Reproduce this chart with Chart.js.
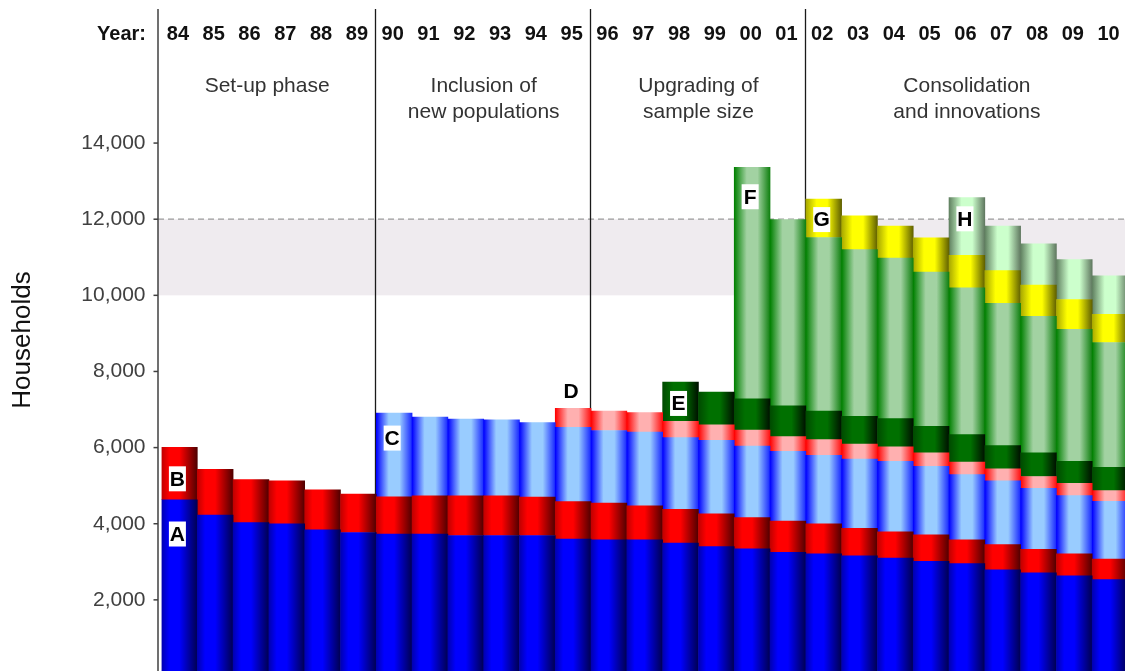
<!DOCTYPE html>
<html>
<head>
<meta charset="utf-8">
<script src="https://cdn.jsdelivr.net/npm/chart.js@4/dist/chart.umd.min.js"></script>
<style>
  html, body { margin: 0; padding: 0; background: #ffffff; overflow: hidden; }
  #wrap { width: 1128px; height: 676px; }
</style>
</head>
<body>
<div id="wrap"><canvas id="c" width="1128" height="676"></canvas></div>
<script>
// ---------- data ----------
const years = ['84','85','86','87','88','89','90','91','92','93','94','95','96','97','98','99','00','01','02','03','04','05','06','07','08','09','10'];
const seriesA = [4630,4230,4030,4000,3840,3770,3730,3730,3690,3690,3690,3600,3580,3580,3490,3400,3340,3250,3210,3160,3100,3010,2950,2790,2710,2630,2530];
const seriesB = [1380,1200,1130,1130,1050,1010,980,1000,1040,1040,1010,980,960,890,890,860,820,820,790,720,690,700,630,660,620,580,540];
const seriesC = [null,null,null,null,null,null,2200,2070,2020,2000,1960,1950,1910,1940,1880,1930,1880,1830,1800,1820,1850,1800,1710,1680,1600,1530,1520];
const seriesD = [null,null,null,null,null,null,null,null,null,null,null,500,510,510,430,410,420,390,410,390,380,350,330,310,310,320,280];
const seriesE = [null,null,null,null,null,null,null,null,null,null,null,null,null,null,1030,860,820,810,750,730,740,700,720,610,620,580,610];
const seriesF = [null,null,null,null,null,null,null,null,null,null,null,null,null,null,null,null,6080,4890,4560,4380,4220,4050,3860,3740,3590,3470,3280];
const seriesG = [null,null,null,null,null,null,null,null,null,null,null,null,null,null,null,null,null,null,1010,890,840,900,850,860,820,780,740];
const seriesH = [null,null,null,null,null,null,null,null,null,null,null,null,null,null,null,null,null,null,null,null,null,null,1520,1170,1080,1050,1010];
const seriesNames = ['A','B','C','D','E','F','G','H'];
const yTickValues = [2000,4000,6000,8000,10000,12000,14000];
const yTitle = 'Households';
const yearCaption = 'Year:';
const phaseTitles = [['Set-up phase'], ['Inclusion of','new populations'], ['Upgrading of','sample size'], ['Consolidation','and innovations']];
const phaseFirstIndex = [0, 6, 12, 18];
const bandLow = 10000, bandHigh = 12000;
const markLetters = ['A','B','C','D','E','F','G','H'];
const markIndex   = [0, 0, 6, 11, 14, 16, 18, 22];
const markValue   = [3730, 5180, 6250, 7490, 7160, 12590, 11990, 12010];
const markBoxed   = [true, true, true, false, true, true, true, true];

// ---------- styles ----------
const gradStops = [
  [[0,'#0000B0'],[0.22,'#0000FF'],[0.5,'#0000FF'],[1,'#000050']],
  [[0,'#C00000'],[0.22,'#FF0000'],[0.5,'#FF0000'],[1,'#500000']],
  [[0,'#0000FF'],[0.35,'#99CCFF'],[0.65,'#99CCFF'],[1,'#1828FF']],
  [[0,'#FF0000'],[0.35,'#FFB0B0'],[0.65,'#FFB0B0'],[1,'#FF1010']],
  [[0,'#004A00'],[0.3,'#007000'],[0.6,'#007000'],[1,'#001000']],
  [[0,'#008000'],[0.35,'#A2D2A2'],[0.65,'#A2D2A2'],[1,'#108010']],
  [[0,'#A8A800'],[0.3,'#FFFF00'],[0.6,'#FFFF00'],[1,'#606000']],
  [[0,'#608060'],[0.35,'#CCFFCC'],[0.65,'#CCFFCC'],[1,'#607860']]
];
const FONT = "'Liberation Sans', Arial, Helvetica, sans-serif";

function makeBg(si) {
  return function(ctx) {
    const chart = ctx.chart;
    const xs = chart.scales.x;
    const stops = gradStops[si];
    if (!xs || !chart.chartArea || ctx.type !== 'data') return stops[1][1];
    const w = (xs.right - xs.left) / years.length;
    const cx = xs.getPixelForValue(ctx.dataIndex);
    const g = chart.ctx.createLinearGradient(cx - w / 2, 0, cx + w / 2, 0);
    stops.forEach(s => g.addColorStop(s[0], s[1]));
    return g;
  };
}

const allSeries = [seriesA, seriesB, seriesC, seriesD, seriesE, seriesF, seriesG, seriesH];
const datasets = allSeries.map((d, i) => ({
  label: seriesNames[i],
  data: d,
  backgroundColor: makeBg(i),
  borderWidth: 0,
  barPercentage: 1,
  categoryPercentage: 1
}));

const deco = {
  id: 'deco',
  beforeDatasetsDraw(chart) {
    const { ctx, chartArea: a, scales: { x, y } } = chart;
    const w = (x.right - x.left) / years.length;
    const axisX = a.left - 3.5;
    ctx.save();
    const yLo = y.getPixelForValue(bandLow), yHi = y.getPixelForValue(bandHigh);
    ctx.fillStyle = '#EFEBEF';
    ctx.fillRect(axisX, yHi, chart.width - axisX, yLo - yHi);
    ctx.strokeStyle = '#9a9a9a';
    ctx.lineWidth = 1.2;
    ctx.setLineDash([6, 4]);
    ctx.beginPath(); ctx.moveTo(axisX, yHi); ctx.lineTo(chart.width, yHi); ctx.stroke();
    ctx.setLineDash([]);
    ctx.strokeStyle = '#1a1a1a';
    ctx.lineWidth = 1.3;
    phaseFirstIndex.slice(1).forEach(i => {
      const xx = Math.round(x.getPixelForValue(i) - w / 2) - 0.5;
      ctx.beginPath(); ctx.moveTo(xx, 9); ctx.lineTo(xx, a.bottom); ctx.stroke();
    });
    ctx.restore();
  },
  afterDraw(chart) {
    const { ctx, chartArea: a, scales: { x, y } } = chart;
    const w = (x.right - x.left) / years.length;
    const axisX = a.left - 3.5;
    ctx.save();
    // y axis line + tick marks
    ctx.strokeStyle = '#404040';
    ctx.lineWidth = 1.5;
    ctx.beginPath(); ctx.moveTo(axisX, 9); ctx.lineTo(axisX, a.bottom); ctx.stroke();
    yTickValues.forEach(v => {
      const yy = y.getPixelForValue(v);
      ctx.beginPath(); ctx.moveTo(axisX - 4.5, yy); ctx.lineTo(axisX, yy); ctx.stroke();
    });
    // header
    ctx.fillStyle = '#111';
    ctx.font = 'bold 20px ' + FONT;
    ctx.textBaseline = 'middle';
    ctx.textAlign = 'right';
    ctx.fillText(yearCaption, axisX - 12, 34);
    ctx.textAlign = 'center';
    years.forEach((lab, i) => ctx.fillText(lab, x.getPixelForValue(i) - 1.5, 34));
    // phase titles
    ctx.fillStyle = '#333';
    ctx.font = '21px ' + FONT;
    phaseTitles.forEach((lines, p) => {
      const x0 = p === 0 ? axisX : x.getPixelForValue(phaseFirstIndex[p]) - w / 2;
      const x1 = p === phaseTitles.length - 1 ? x.right : x.getPixelForValue(phaseFirstIndex[p + 1]) - w / 2;
      lines.forEach((t, k) => ctx.fillText(t, (x0 + x1) / 2, 86 + k * 26));
    });
    // letter marks
    ctx.font = 'bold 21px ' + FONT;
    markLetters.forEach((L, i) => {
      const cx = x.getPixelForValue(markIndex[i]) - 2;
      const cy = y.getPixelForValue(markValue[i]);
      if (markBoxed[i]) {
        ctx.fillStyle = '#ffffff';
        ctx.fillRect(cx - 8.5, cy - 12.5, 17, 25);
      }
      ctx.fillStyle = '#000';
      ctx.fillText(L, cx, cy + 1);
    });
    // y title
    ctx.translate(23, 340);
    ctx.rotate(-Math.PI / 2);
    ctx.font = '26px ' + FONT;
    ctx.fillStyle = '#111';
    ctx.fillText(yTitle, 0, 0);
    ctx.restore();
  }
};

new Chart(document.getElementById('c'), {
  type: 'bar',
  data: { labels: years, datasets },
  options: {
    responsive: false,
    animation: false,
    devicePixelRatio: 1,
    layout: { padding: { top: 105, left: 0, right: 0, bottom: 0 } },
    plugins: { legend: { display: false }, tooltip: { enabled: false } },
    scales: {
      x: { stacked: true, display: false },
      y: {
        stacked: true,
        min: 0,
        max: 15000,
        border: { display: false },
        grid: { display: false, drawTicks: false },
        afterBuildTicks(scale) {
          scale.ticks = yTickValues.map(v => ({ value: v }));
        },
        afterFit(scale) {
          scale.width = 161.5;
          scale.paddingTop = 0;
          scale.paddingBottom = 0;
        },
        ticks: {
          padding: 16,
          color: '#404040',
          font: { family: FONT, size: 21 },
          callback: v => Number(v).toLocaleString('en-US')
        }
      }
    }
  },
  plugins: [deco]
});
</script>
</body>
</html>
